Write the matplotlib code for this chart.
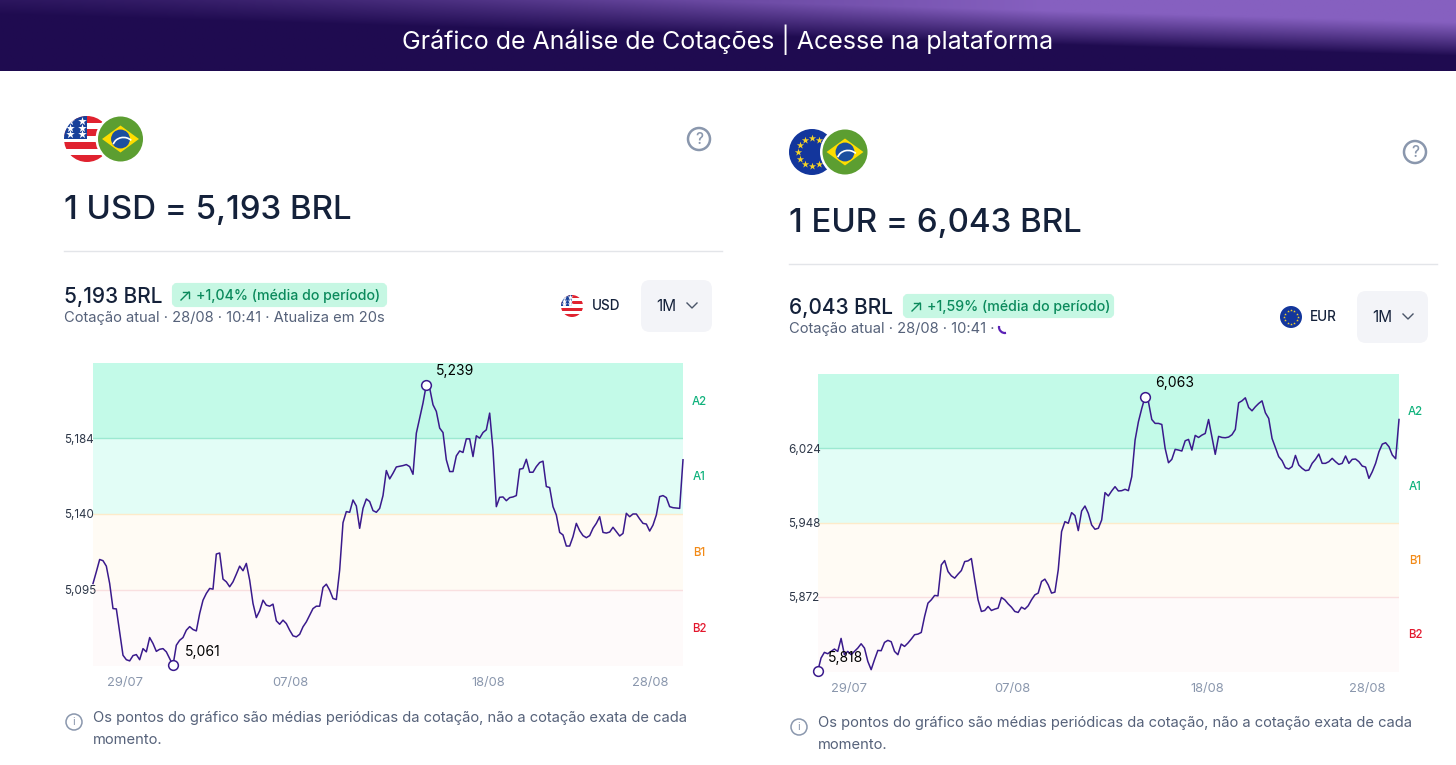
import numpy as np
import matplotlib
matplotlib.use("Agg")
import matplotlib.pyplot as plt
from matplotlib.patches import Circle, Rectangle, FancyBboxPatch, Polygon, Arc
from matplotlib.transforms import blended_transform_factory

plt.rcParams['font.family'] = ['Inter', 'DejaVu Sans']

# ---------- data (thousandths of BRL) ----------
usd_values = [5099.2,5106.1,5113.3,5112.6,5109.4,5099.2,5084.5,5084.3,5070.8,5057.1,5054.5,5053.8,5056.9,5057.5,5054.5,5061.0,5059.1,5067.5,5064.0,5059.4,
 5060.6,5061.0,5059.1,5055.1,5051.2,5063.0,5065.9,5067.5,5071.8,5073.9,5072.2,5071.4,5081.6,5089.4,5093.4,5096.3,5095.9,5116.5,5117.1,5101.8,
 5100.2,5097.3,5100.2,5104.7,5109.4,5106.7,5111.0,5101.2,5087.5,5079.2,5083.2,5089.4,5086.5,5085.9,5087.1,5077.3,5075.3,5077.7,5075.7,5071.8,
 5068.5,5067.9,5069.4,5073.8,5076.7,5080.6,5084.5,5085.9,5085.9,5096.9,5098.8,5095.3,5090.4,5089.8,5107.1,5134.9,5141.4,5141.0,5148.2,5144.7,
 5131.6,5143.3,5148.8,5147.3,5142.0,5141.0,5143.3,5150.8,5165.5,5160.6,5163.9,5167.6,5168.0,5168.4,5169.0,5167.8,5163.3,5187.4,5196.3,5205.1,
 5215.9,5213.9,5204.1,5200.2,5190.4,5187.8,5171.8,5164.9,5164.9,5174.1,5177.0,5176.1,5184.1,5184.1,5173.7,5185.9,5184.5,5187.8,5189.4,5199.2,
 5177.6,5144.3,5149.8,5150.0,5147.8,5149.6,5150.0,5150.8,5166.3,5166.7,5172.1,5164.5,5164.5,5167.8,5170.2,5171.0,5156.1,5155.5,5144.3,5139.4,
 5129.2,5127.7,5121.2,5121.2,5126.7,5134.5,5130.2,5127.3,5126.1,5127.3,5131.6,5134.5,5138.4,5129.2,5128.8,5129.4,5132.2,5129.6,5127.1,
 5128.6,5140.4,5138.4,5140.0,5140.0,5137.1,5134.5,5134.1,5130.0,5133.5,5139.4,5150.2,5150.8,5149.6,5144.3,5143.7,5143.5,5143.3,5171.8]

eur_values = [5795.7,5809.3,5815.1,5813.7,5816.1,5818.5,5816.1,5829.4,5812.7,5816.1,5812.7,5816.1,5819.5,5823.9,5819.5,5805.9,5797.4,5807.6,5817.1,5816.8,
 5825.3,5827.4,5826.0,5816.1,5812.7,5823.6,5821.2,5824.6,5828.7,5833.2,5833.8,5835.5,5851.9,5865.5,5868.9,5873.4,5873.0,5904.7,5909.1,5897.9,
 5893.5,5891.1,5895.2,5898.9,5908.1,5908.8,5911.2,5889.4,5868.9,5857.0,5858.0,5862.1,5858.0,5859.4,5860.4,5871.3,5868.9,5864.8,5861.4,5857.0,
 5856.0,5861.4,5859.4,5862.8,5868.9,5874.0,5875.8,5887.7,5890.1,5884.3,5875.8,5876.8,5899.6,5938.8,5949.0,5947.3,5958.2,5955.2,5939.8,5959.9,
 5965.0,5957.5,5945.6,5941.2,5942.2,5950.7,5978.7,5975.3,5980.4,5984.8,5980.4,5980.7,5982.1,5980.7,5995.0,6032.5,6051.3,6064.9,6076.8,6071.7,
 6053.6,6049.6,6049.6,6048.5,6024.0,6009.3,6012.8,6023.0,6022.3,6021.3,6031.8,6033.2,6022.3,6037.3,6035.2,6037.6,6039.3,6053.6,6035.9,6017.9,
 6036.3,6035.2,6034.9,6035.6,6038.0,6043.4,6070.7,6072.7,6075.8,6065.9,6062.5,6066.6,6070.0,6072.7,6060.5,6054.7,6034.2,6025.0,6015.5,6011.4,
 6004.2,6002.9,6005.3,6016.8,6007.0,6003.6,6001.2,6001.8,6008.7,6012.8,6018.2,6008.7,6008.7,6010.4,6013.8,6010.4,6007.6,6008.7,6016.2,
 6008.7,6012.8,6013.1,6010.4,6005.9,6004.9,5993.3,6000.1,6008.7,6020.6,6028.4,6029.8,6025.7,6017.2,6013.4,6053.6]

usd_levels = [5050.8, 5095.5, 5140.0, 5184.5, 5228.6]
eur_levels = [5795.0, 5872.0, 5948.0, 6024.0, 6100.7]
usd_ticks = ['5,095', '5,140', '5,184']
eur_ticks = ['5,872', '5,948', '6,024']
date_labels = ['29/07', '07/08', '18/08', '28/08']
usd_date_idx = [9.6, 59.25, 118.5, 167.1]
eur_date_idx = [9.46, 58.2, 116.5, 164.5]
zone_names = ['B2', 'B1', 'A1', 'A2']
usd_extremes = ['5,061', '5,239']
eur_extremes = ['5,818', '6,063']

W, H = 1456, 765
fig = plt.figure(figsize=(W/100, H/100), dpi=100, facecolor='white')
bg = fig.add_axes([0, 0, 1, 1])
bg.set_xlim(0, W); bg.set_ylim(H, 0); bg.axis('off')

# ---------- header ----------
gx, gy = np.meshgrid(np.linspace(0, 1, 400), np.linspace(0, 71, 72))
edge = 14 + 42*gx
t = np.clip((edge - gy)/34, 0, 1)**0.9*(0.28 + 0.72*np.clip(gx/0.72, 0, 1)**1.2)
dark = np.array([0x1f, 0x0b, 0x50]); light = np.array([0x86, 0x60, 0xc0])
img = (dark[None, None, :]*(1 - t[..., None]) + light[None, None, :]*t[..., None])/255
bg.imshow(img, extent=[0, W, 71, 0], aspect='auto', zorder=0, interpolation='bilinear')
bg.set_xlim(0, W); bg.set_ylim(H, 0)
bg.text(728, 40, 'Gráfico de Análise de Cotações | Acesse na plataforma', color='white',
        fontsize=18, ha='center', va='center', family=['Inter', 'DejaVu Sans'])

INK = '#14213a'; MUTED = '#56627a'; GREY = '#8a97ad'


def brazil(cx, cy, r=22.5):
    bg.add_patch(Circle((cx, cy), r + 2.5, fc='white', ec='none', zorder=3))
    bg.add_patch(Circle((cx, cy), r, fc='#5c9e31', ec='none', zorder=3))
    bg.add_patch(Polygon([(cx - r*.82, cy), (cx, cy - r*.6), (cx + r*.82, cy), (cx, cy + r*.6)],
                         fc='#fedd00', ec='none', zorder=4))
    bg.add_patch(Circle((cx, cy), r*.42, fc='#1c4f9f', ec='none', zorder=5))
    bg.add_patch(Arc((cx + 3, cy + 8), r*.95, r*.85, theta1=195, theta2=320, color='white', lw=1.2, zorder=6))


def usa(cx, cy, r):
    clip = Circle((cx, cy), r, transform=bg.transData)
    bg.add_patch(Rectangle((cx - r, cy - r), 2*r, 2*r, fc='white', ec='none', zorder=2, clip_path=clip))
    h = 2*r/7
    for i in range(0, 7, 2):
        bg.add_patch(Rectangle((cx - r, cy - r + i*h), 2*r, h, fc='#e0222f', ec='none', zorder=2, clip_path=clip))
    bg.add_patch(Rectangle((cx - r, cy - r), r*1.0, r*1.02, fc='#17409a', ec='none', zorder=2, clip_path=clip))
    sx = np.array([-.72, -.22, -.72, -.22, -.72, -.22])
    sy = np.array([-.2, -.2, -.5, -.5, -.8, -.8])
    s = bg.scatter(cx + sx*r, cy + sy*r, marker='*', s=r*1.8, c='white', linewidths=0, zorder=2)
    s.set_clip_path(clip)


def eu(cx, cy, r, star):
    bg.add_patch(Circle((cx, cy), r, fc='#13369c', ec='none', zorder=2))
    a = np.arange(12)*np.pi/6
    bg.scatter(cx + .62*r*np.cos(a), cy + .62*r*np.sin(a), marker='*', s=star, c='#f5d327',
               linewidths=0, zorder=2)


def panel(x0, yoff_top, yoff_row, big, price, change, status, cur, flagfn, sep_x1, rshift):
    dy, dr = yoff_top, yoff_row
    flagfn(dy)
    bg.text(x0, 210 + dy, big, fontsize=23.8, color=INK, fontweight='medium', va='center', ha='left')
    bg.add_patch(Circle((x0 + 635 + rshift, 139 + dy), 11, fc='none', ec=GREY, lw=1.8))
    bg.text(x0 + 635 + rshift, 139 + dy, '?', fontsize=11, color=GREY, ha='center', va='center', fontweight='medium')
    bg.plot([x0, sep_x1], [250.5 + dy]*2, color='#e3e5e9', lw=1)
    # summary row
    bg.text(x0, 297 + dr, price, fontsize=15, color=INK, fontweight='medium', va='center', ha='left')
    badge_x = x0 + 108 + (6 if dr else 0)
    badge_w = 215 if not dr else 211
    bg.add_patch(FancyBboxPatch((badge_x + 2, 285 + dr), badge_w - 4, 20, boxstyle='round,pad=0,rounding_size=3',
                                mutation_aspect=1, fc='#c6f7e3', ec='#c6f7e3', lw=3))
    ax_, ay_ = badge_x + 9, 300 + dr
    bg.plot([ax_, ax_ + 8], [ay_, ay_ - 8], color='#0b8a5c', lw=1)
    bg.plot([ax_ + 2, ax_ + 8, ax_ + 8], [ay_ - 8, ay_ - 8, ay_ - 2], color='#0b8a5c', lw=1)
    bg.text(badge_x + 24, 296 + dr, change, fontsize=10.2, color='#0b8a5c', fontweight='medium', va='center')
    bg.text(x0, 318 + dr, status, fontsize=10.6, color=MUTED, va='center')
    # currency + dropdown
    bx = x0 + 577 + rshift
    bg.add_patch(FancyBboxPatch((bx, 280 + dr), 71, 52, boxstyle='round,pad=0,rounding_size=9',
                                fc='#f3f4f8', ec='none', zorder=1))
    bg.text(bx + 25, 306 + dr, '1M', fontsize=11, color=INK, ha='center', va='center')
    bg.plot([bx + 46, bx + 51, bx + 56], [303 + dr, 308 + dr, 303 + dr], color='#4a5568', lw=1)
    bg.text(x0 + 528 + rshift + (2 if rshift else 0), 306 + dr, cur, fontsize=9.7, color=INK, fontweight='medium', va='center')


def note(x_icon, y_icon, x_text, y1, y2):
    bg.add_patch(Circle((x_icon, y_icon), 8, fc='none', ec=GREY, lw=1.1))
    bg.text(x_icon, y_icon, 'i', fontsize=8, color=GREY, ha='center', va='center')
    bg.text(x_text, y1 + 1, 'Os pontos do gráfico são médias periódicas da cotação, não a cotação exata de cada',
            fontsize=10.6, color=MUTED, va='center')
    bg.text(x_text, y2 + 1, 'momento.', fontsize=10.6, color=MUTED, va='center')


def chart(box, values, levels, ticks, date_idx, extremes, offs):
    l, t_, r, b = box
    ax = fig.add_axes([l/W, 1 - b/H, (r - l)/W, (b - t_)/H], facecolor='none')
    v = np.array(values)/1000
    lv = np.array(levels)/1000
    x = np.arange(len(v))
    ax.set_xlim(0, len(v) - 1); ax.set_ylim(lv[0], lv[-1])
    fills = ['#fefafa', '#fffbf4', '#e2fdf6', '#c3fae8']
    edges = ['#f9dfe0', '#fdebca', '#9ce9d1']
    zcols = ['#e3172d', '#f28a17', '#10b27c', '#10b27c']
    tr = blended_transform_factory(ax.transAxes, ax.transData)
    for i in range(4):
        ax.axhspan(lv[i], lv[i + 1], color=fills[i], lw=0, zorder=0)
        ax.text(1 + 16/(r - l), (lv[i] + lv[i + 1])/2 - 0.0006*(lv[-1] - lv[0])/0.178, zone_names[i], transform=tr, color=zcols[i],
                fontsize=8.3, fontweight='medium', ha='center', va='center')
    for i in range(3):
        ax.axhline(lv[i + 1], color=edges[i], lw=1, zorder=1)
    ax.plot(x, v, color='#3a1a8c', lw=1.1, zorder=3, solid_joinstyle='round', clip_on=False)
    for s in ax.spines.values():
        s.set_visible(False)
    ax.set_yticks(lv[1:4]); ax.set_yticklabels(ticks, fontsize=8.4, color='#2d3748', ha='left')
    ax.set_xticks(date_idx); ax.set_xticklabels(date_labels, fontsize=9.3, color=GREY)
    ax.tick_params(length=0); ax.tick_params(axis='y', pad=21); ax.tick_params(axis='x', pad=8)
    imin, imax = int(np.argmin(v)), int(np.argmax(v))
    for idx, lab, off in ((imin, extremes[0], offs[0]), (imax, extremes[1], offs[1])):
        ax.plot(x[idx], v[idx], 'o', ms=7, mfc='white', mec='#3a1a8c', mew=1.1, zorder=5, clip_on=False)
        ax.annotate(lab, (x[idx], v[idx]), xytext=off, textcoords='offset pixels', fontsize=10,
                    color='black', ha='center', va='center', zorder=6, annotation_clip=False)
    return ax


# ---------- left panel ----------
def flags_left(dy):
    usa(87, 139, 23); brazil(120.5, 139)


panel(64, 0, 0, '1 USD = 5,193 BRL', '5,193 BRL', '+1,04% (média do período)',
      'Cotação atual · 28/08 · 10:41 · Atualiza em 20s', 'USD', flags_left, 722, 0)
usa(572, 306, 11)
chart((93, 363, 683, 666), usd_values, usd_levels, usd_ticks, usd_date_idx, usd_extremes, ((30, 13), (29, 14)))
note(74, 722, 93, 717, 739)


# ---------- right panel ----------
def flags_right(dy):
    eu(812, 152, 23, 30); brazil(845, 152)


panel(789, 13, 11, '1 EUR = 6,043 BRL', '6,043 BRL', '+1,59% (média do período)',
      'Cotação atual · 28/08 · 10:41 ·', 'EUR', flags_right, 1437, -9)
bg.add_patch(Arc((1005, 327), 12, 12, theta1=80, theta2=190, color='#5b21b6', lw=1.6))
eu(1291, 317, 11, 4)
chart((817.7, 373.5, 1399, 672), eur_values, eur_levels, eur_ticks, eur_date_idx, eur_extremes, ((28, 13), (30, 14)))
note(799, 727, 817.5, 722, 744)

fig.savefig('out.png', dpi=100)
